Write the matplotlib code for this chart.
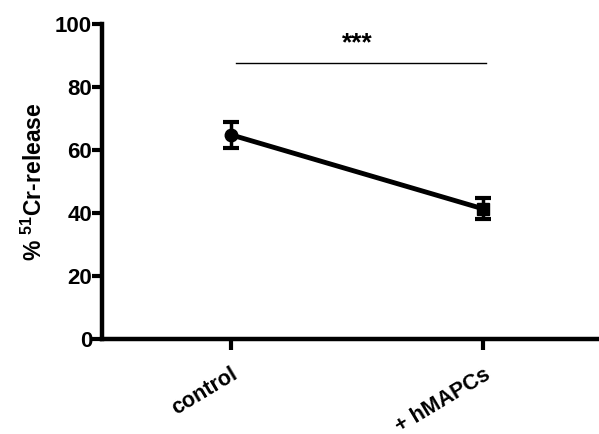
import numpy as np
import matplotlib
matplotlib.use("Agg")
import matplotlib.pyplot as plt

plt.rcParams['font.family'] = ['Liberation Sans', 'DejaVu Sans']
plt.rcParams['font.weight'] = 'bold'
plt.rcParams['axes.labelweight'] = 'bold'
plt.rcParams['mathtext.fontset'] = 'custom'
plt.rcParams['mathtext.rm'] = 'Liberation Sans:bold'
plt.rcParams['mathtext.it'] = 'Liberation Sans:bold'
plt.rcParams['mathtext.bf'] = 'Liberation Sans:bold'

# data
groups = ['control', '+ hMAPCs']
means = [64.8, 41.3]
errs = [4.2, 3.3]
markers = ['o', 's']
yticks = [0, 20, 40, 60, 80, 100]
sig_y = 87.6
sig_label = '***'

fig = plt.figure(figsize=(5.99, 4.34), dpi=100)
ax = fig.add_axes([0.170, 0.219, 0.83, 0.726])

x = np.arange(len(groups))
ax.plot(x, means, color='black', lw=3.5, zorder=2)
for xi, m, e, mk in zip(x, means, errs, markers):
    ax.errorbar(xi, m, yerr=e, fmt=mk, color='black', ms=9,
                elinewidth=2.5, capsize=6, capthick=3, zorder=3)

# significance bar
ax.plot([0.02, 1.01], [sig_y, sig_y], color='black', lw=1)
ax.text(0.5, sig_y + 2.5, sig_label, ha='center', va='bottom',
        fontsize=19, fontweight='bold')

ax.set_xlim(-0.512, 1.46)
ax.set_ylim(0, 100)
ax.set_yticks(yticks)
ax.set_xticks(x)
ax.set_xticklabels(groups, rotation=31, ha='right', rotation_mode='anchor',
                   fontsize=15.5)
ax.tick_params(axis='y', labelsize=16, width=3, length=7, pad=0)
ax.tick_params(axis='x', width=3, length=8, pad=10)

ax.set_ylabel('% $^{51}$Cr-release', fontsize=16.5, fontweight='bold', labelpad=6)

for s in ['top', 'right']:
    ax.spines[s].set_visible(False)
for s in ['left', 'bottom']:
    ax.spines[s].set_linewidth(3.2)

fig.savefig('out.png', dpi=100)
